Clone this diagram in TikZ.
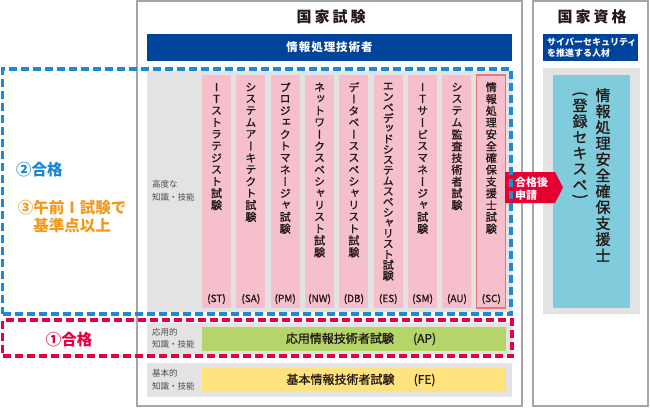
\documentclass[tikz,border=0pt]{standalone}
\usepackage{fontspec}
\usepackage{graphicx}
\setmainfont{Noto Sans CJK JP}
\newfontfamily\jpv[RawFeature=+vert,FakeBold=1.2]{Noto Sans CJK JP}
\newfontfamily\jpm[FakeBold=1]{Noto Sans CJK JP}
\newfontfamily\jpsp[LetterSpace=20]{Noto Sans CJK JP}
\newfontfamily\jpsm[LetterSpace=8]{Noto Sans CJK JP}
\definecolor{frameg}{HTML}{A6A6A6}
\definecolor{navy}{HTML}{00439A}
\definecolor{lgray}{HTML}{E3E3E3}
\definecolor{pinkc}{HTML}{F5C0CB}
\definecolor{cyanc}{HTML}{80CCDC}
\definecolor{greenc}{HTML}{B5D56B}
\definecolor{yellowc}{HTML}{FFE37F}
\definecolor{redc}{HTML}{E5003F}
\definecolor{arrred}{HTML}{E50032}
\definecolor{bluec}{HTML}{1E8AD6}
\definecolor{bluetxt}{HTML}{1A86D0}
\definecolor{orangec}{HTML}{F39A1E}
\definecolor{scred}{HTML}{E8747C}
\definecolor{txt}{HTML}{231815}
\definecolor{labc}{HTML}{4D4D4D}
\newdimen\vpitch
\newcommand\vcell[1]{\vbox to\vpitch{\vss\hbox to 1.2em{\hss#1\hss}\vss}}
\newcommand\vparen[1]{\vbox to 7pt{\vss\hbox to 1.2em{\hss\rotatebox{-90}{#1}\hss}\vss}}
\makeatletter
\def\vtxt@loop#1{\ifx#1\relax\else\vcell{#1}\expandafter\vtxt@loop\fi}
\newcommand\vtxt[1]{\vbox{\offinterlineskip\vtxt@loop#1\relax}}
\makeatother
\newcommand\mkbox[6]{\node[rb,#2,minimum width={#5pt-#3pt},minimum height={#6pt-#4pt}] (#1) at (#3,#4) {};}
\begin{document}
\begin{tikzpicture}[x=1pt,y=-1pt,
  rb/.style={inner sep=0pt,outer sep=0pt,anchor=north west},
  frame/.style={draw=frameg,line width=1.3pt},
  lab/.style={font=\fontsize{8.5}{12.5}\selectfont,text=labc,align=left,inner sep=0pt,anchor=west},
  dashbox/.style={line width=3.2pt,dash pattern=on 8pt off 4pt},
  big/.style={font=\bfseries\fontsize{15.5}{18}\selectfont,inner sep=0pt}]
\useasboundingbox (0,0) rectangle (650,407);
% frames
\mkbox{exam}{frame}{137}{1}{522}{406}
\mkbox{qual}{frame}{533}{1}{648}{406}
\node[font=\jpsp\bfseries\fontsize{15}{18}\selectfont,text=txt] (t1) at (331,17) {国家試験};
\node[font=\jpsp\bfseries\fontsize{15}{18}\selectfont,text=txt] (t2) at (592,17) {国家資格};
% headers
\mkbox{hdr}{fill=navy}{147}{34}{512}{61}
\node[text=white,font=\jpsm\bfseries\fontsize{11.5}{14}\selectfont] (hdrt) at (hdr.center) {情報処理技術者};
\mkbox{hdr2}{fill=navy}{543}{34}{638}{61}
\node[text=white,font=\bfseries\fontsize{9}{11}\selectfont,align=left,anchor=west,inner sep=0pt] (hdr2t) at (547,47.5) {サイバーセキュリティ\\を推進する人材};
% gray panels
\mkbox{advbg}{fill=lgray}{147}{71}{512}{312}
\mkbox{apbg}{fill=lgray}{147}{323}{512}{354}
\mkbox{febg}{fill=lgray}{147}{363}{512}{397}
\mkbox{rbg}{fill=lgray}{543}{68}{640}{314}
\mkbox{cyanb}{fill=cyanc}{553}{75}{630}{308}
% level labels
\node[lab] (l1) at (152,191) {高度な\\知識・技能};
\node[lab] (l2) at (152,338.5) {応用的\\知識・技能};
\node[lab] (l3) at (152,380) {基本的\\知識・技能};
% exam columns
\foreach \tx/\ab/\pp [count=\i from 0] in {%
  ITストラテジスト試験/ST/11.8,
  システムアーキテクト試験/SA/11.8,
  プロジェクトマネージャ試験/PM/11.8,
  ネットワークスペシャリスト試験/NW/11.8,
  データベーススペシャリスト試験/DB/11.8,
  エンベデッドシステムスペシャリスト試験/ES/10.5,
  ITサービスマネージャ試験/SM/11.8,
  システム監査技術者試験/AU/11.8,
  情報処理安全確保支援士試験/SC/11.8}{
  \pgfmathsetmacro\xl{202+34.35*\i}
  \node[rb,fill=pinkc,minimum width=29pt,minimum height=233pt] (col\i) at (\xl,75) {};
  \node[anchor=north,font=\jpv\fontsize{11}{13}\selectfont,text=txt,inner sep=0pt] (v\i) at ([yshift=-6pt]col\i.north) {\vpitch=\pp pt\expandafter\vtxt\expandafter{\tx}};
  \node[font=\jpm\fontsize{10}{12}\selectfont,text=txt,inner sep=0pt] (ab\i) at ([yshift=9pt]col\i.south) {(\ab)};
}
\draw[scred,line width=1.2pt] (col8.north west) rectangle (col8.south east);
% AP / FE bars
\mkbox{ap}{fill=greenc}{202}{327}{506}{351}
\node[font=\jpm\fontsize{12}{14}\selectfont,text=txt] (apt) at ([xshift=7pt]ap.center) {応用情報技術者試験\hspace{1.6em}(AP)};
\mkbox{fe}{fill=yellowc}{202}{368}{506}{392}
\node[font=\jpm\fontsize{12}{14}\selectfont,text=txt] (fet) at ([xshift=7pt]fe.center) {基本情報技術者試験\hspace{1.6em}(FE)};
% qualification text
\node[anchor=north,font=\jpv\fontsize{15}{17}\selectfont,text=txt,inner sep=0pt] (sc1) at (603,87) {\vpitch=16pt\vtxt{情報処理安全確保支援士}};
\node[anchor=north,font=\jpv\fontsize{15}{17}\selectfont,text=txt,inner sep=0pt] (sc2) at (580,90) {\vpitch=16pt\vbox{\offinterlineskip\vparen{(}\vtxt{登録セキスペ}\vparen{)}}};
% arrow
\fill[arrred] (505,172) -- (555,172) -- (563,187.5) -- (555,203) -- (505,203) -- cycle;
% dashed boxes
\mkbox{bluedash}{draw=bluec,dashbox}{2.5}{69}{511}{314}
\mkbox{reddash}{draw=redc,dashbox}{2.5}{320}{512}{356}
\node[anchor=west,text=white,font=\bfseries\fontsize{11}{13}\selectfont,align=left,inner sep=0pt] (arrt) at (515,188.5) {合格後\\申請};
% left labels
\node[big,anchor=west,text=bluetxt] (pass2) at (16,170) {②合格};
\node[big,text=orangec,align=center] (am1) at (72,216.5) {③午前Ⅰ試験で\\基準点以上};
\node[big,text=redc] (pass1) at (69,340) {①合格};
\end{tikzpicture}
\end{document}
